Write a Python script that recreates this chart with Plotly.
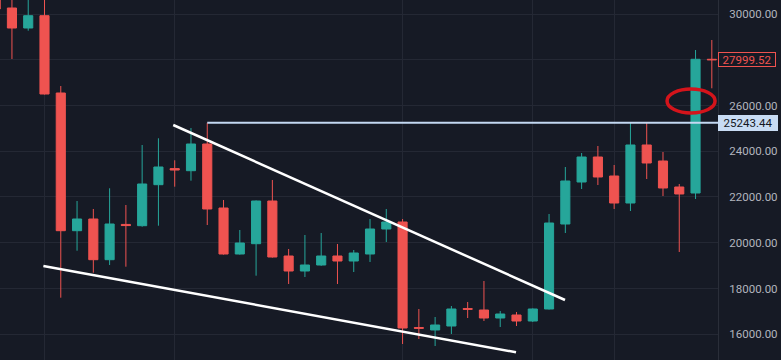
import plotly.graph_objects as go

# ---- data (weekly OHLC) ----
opens = [30900, 30262, 29388, 29926, 26546, 20526, 21037, 19258, 20800, 20745,
         22537, 23240, 23149, 24316, 21518, 19507, 19958, 21824, 19420, 18764,
         19026, 19420, 19201, 19507, 20600, 20906, 16290, 16185, 16359, 17120,
         17059, 16709, 16840, 16578, 17103, 20819, 22655, 23748, 22917, 21737,
         24273, 23573, 22437, 22174, 28020]
highs = [31100, 30800, 30700, 30650, 26852, 21824, 21475, 22380, 21650, 24273,
         24566, 23604, 25016, 25243.44, 21868, 20557, 21850, 22743, 19726, 20338,
         20425, 19944, 19682, 21037, 21475, 21037, 17103, 16753, 17234, 17409,
         18327, 17016, 16972, 17130, 21256, 23311, 23923, 24229, 23398, 25240,
         25240, 23967, 22568, 28426, 28863]
lows = [30100, 28033, 29270, 26480, 17597, 19651, 18690, 19026, 18952, 20700,
        20745, 22450, 22712, 20775, 19480, 19480, 18559, 19350, 18196, 18502,
        18990, 18196, 18720, 19158, 20032, 15572, 15791, 15485, 16010, 16709,
        16578, 16316, 16359, 16535, 17080, 20425, 22349, 22524, 21475, 21387,
        22786, 22043, 19595, 21912, 26752]
closes = [30220, 29388, 29926, 26502, 20526, 21037, 19258, 20819, 20750, 22568,
          23311, 23180, 24316, 21475, 19507, 19988, 21824, 19376, 18764, 19026,
          19420, 19201, 19551, 20600, 20906, 16272, 16260, 16403, 17103, 17090,
          16709, 16884, 16578, 17103, 20862, 22699, 23748, 22874, 21737, 24273,
          23486, 22393, 22131, 28020, 27999.52]
bars = list(range(len(opens)))

y_ticks = [16000, 18000, 20000, 22000, 24000, 26000, 28000, 30000]
y_tick_labels = ["16000.00", "18000.00", "20000.00", "22000.00", "24000.00",
                 "26000.00", "", "30000.00"]
x_grid_bars = [3, 11, 25, 33, 38]

# drawings (bar index, price)
upper_trend = [(10.91, 25147), (34.98, 17496)]
lower_trend = [(2.93, 18983), (31.97, 15210)]
resistance_start = 13
resistance_price = 25243.44
last_price = 27999.52
circle_x = [41.25, 44.2]
circle_y = [25672, 26721]

BG = "#161a25"
GRID = "#242834"
UP = "#26a69a"
DOWN = "#ef5350"
TXT = "#b2b5be"

fig = go.Figure(go.Candlestick(
    x=bars, open=opens, high=highs, low=lows, close=closes,
    increasing=dict(line=dict(color=UP, width=1), fillcolor=UP),
    decreasing=dict(line=dict(color=DOWN, width=1), fillcolor=DOWN),
    whiskerwidth=0, hoverinfo="skip",
))

shapes = [
    dict(type="line", xref="x", yref="y",
         x0=upper_trend[0][0], y0=upper_trend[0][1],
         x1=upper_trend[1][0], y1=upper_trend[1][1],
         line=dict(color="#ffffff", width=2.5), layer="above"),
    dict(type="line", xref="x", yref="y",
         x0=lower_trend[0][0], y0=lower_trend[0][1],
         x1=lower_trend[1][0], y1=lower_trend[1][1],
         line=dict(color="#ffffff", width=2.5), layer="above"),
    dict(type="line", xref="x", yref="y",
         x0=resistance_start, x1=60, y0=resistance_price, y1=resistance_price,
         line=dict(color="#c3d8f2", width=2), layer="above"),
    dict(type="circle", xref="x", yref="y",
         x0=circle_x[0], x1=circle_x[1], y0=circle_y[0], y1=circle_y[1],
         line=dict(color="#d4141b", width=3.5), layer="above"),
]

annotations = [
    dict(xref="paper", yref="y", x=1, y=last_price, xanchor="left", yanchor="middle",
         text=f"{last_price:.2f}", showarrow=False, width=56, height=13,
         align="center", bgcolor=BG, bordercolor=DOWN, borderwidth=1, borderpad=0,
         font=dict(color=DOWN, size=11.5, family="Roboto")),
    dict(xref="paper", yref="y", x=1, y=resistance_price, xanchor="left", yanchor="middle",
         text=f"{resistance_price:.2f}", showarrow=False, width=60, height=16,
         align="center", bgcolor="#c8dcf4", borderwidth=0, borderpad=0,
         font=dict(color="#131722", size=11.5, family="Roboto")),
]

fig.update_layout(
    width=781, height=360,
    margin=dict(l=0, r=63, t=0, b=0),
    paper_bgcolor=BG, plot_bgcolor=BG,
    showlegend=False, boxgap=0.2,
    shapes=shapes, annotations=annotations,
    xaxis=dict(range=[0.266, 44.38], rangeslider=dict(visible=False),
               tickvals=x_grid_bars, showticklabels=False, showgrid=True,
               gridcolor=GRID, gridwidth=1, zeroline=False, showline=False,
               fixedrange=True),
    yaxis=dict(range=[14873, 30612], side="right", tickvals=y_ticks,
               ticktext=y_tick_labels, showgrid=True, gridcolor=GRID, gridwidth=1,
               zeroline=False, showline=True, linecolor="#2a2e39", linewidth=1,
               ticks="", ticklabelstandoff=8, automargin=False,
               tickfont=dict(color=TXT, size=11.5, family="Roboto"), fixedrange=True),
)

fig.write_html(
    "out.html",
    config={"displayModeBar": False},
    post_script="document.body.style.margin='0';document.body.style.background='%s';" % BG,
)
